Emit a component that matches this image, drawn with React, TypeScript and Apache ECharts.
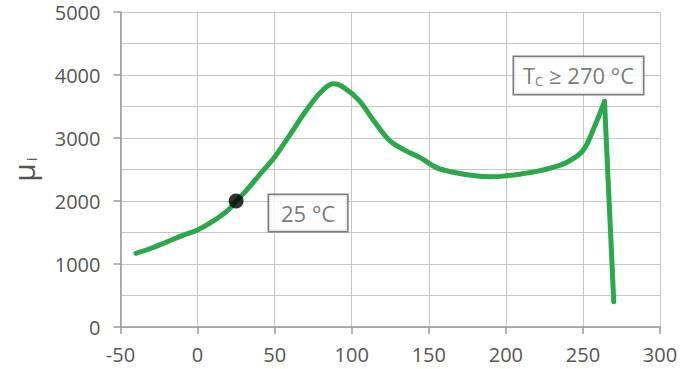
import React, { useEffect, useRef } from "react";
import * as echarts from "echarts";

const temps = [-40, -30, -20, -10, 0, 10, 20, 25, 30, 40, 50, 60, 70, 80, 88, 95, 105, 115, 125, 135, 145, 155, 165, 180, 190, 200, 210, 220, 230, 240, 250, 257, 264];
const mu = [1170, 1250, 1350, 1450, 1540, 1680, 1860, 2000, 2120, 2410, 2700, 3055, 3420, 3730, 3860, 3800, 3590, 3250, 2950, 2800, 2680, 2530, 2460, 2400, 2385, 2400, 2430, 2470, 2530, 2620, 2800, 3150, 3580];
const dropTemps = [264, 270];
const dropMu = [3580, 400];
const roomPoint = [25, 2000];
const curiePoint = [264, 3580];
const xTicks = { min: -50, max: 300, interval: 50 };
const yTicks = { min: 0, max: 5000, interval: 1000 };
const roomLabel = "25 °C";
const curieLabel = "270 °C";

const FONT = "'Open Sans', 'Noto Sans', sans-serif";
const GREEN = "#2aa84a";

export default function App() {
  const ref = useRef<HTMLDivElement>(null);
  useEffect(() => {
    document.body.style.margin = "0";
    const chart = echarts.init(ref.current!, null, { renderer: "svg" });
    const boxLabel = {
      show: true,
      position: "inside",
      color: "#555",
      fontFamily: FONT,
      fontSize: 22,
      backgroundColor: "#fff",
      borderColor: "#5a5a5a",
      borderWidth: 1.5,
    };
    chart.setOption({
      animation: false,
      grid: { left: 118, right: 34, top: 12, bottom: 42, containLabel: false },
      xAxis: {
        type: "value",
        min: xTicks.min,
        max: xTicks.max,
        interval: xTicks.interval,
        axisLine: { show: true, onZero: false, lineStyle: { color: "#9a9a9a", width: 1.5 } },
        axisTick: { show: true, length: 7, lineStyle: { color: "#9a9a9a", width: 1.5 } },
        axisLabel: { color: "#555", fontSize: 20, fontFamily: FONT, margin: 17, formatter: (v: number) => String(v) },
        splitLine: { show: true, lineStyle: { color: "#c6c6c6", width: 1 } },
      },
      yAxis: {
        type: "value",
        min: yTicks.min,
        max: yTicks.max,
        interval: yTicks.interval,
        name: "{a|μ}{b|i}",
        nameLocation: "middle",
        nameGap: 82,
        nameRotate: 90,
        nameTextStyle: {
          rich: {
            a: { fontSize: 30, color: "#555", fontFamily: FONT },
            b: { fontSize: 15, color: "#555", fontFamily: FONT, padding: [16, 0, 0, 2] },
          },
        },
        axisLine: { show: true, onZero: false, lineStyle: { color: "#9a9a9a", width: 1.5 } },
        axisTick: { show: true, length: 7, lineStyle: { color: "#9a9a9a", width: 1.5 } },
        axisLabel: { color: "#555", fontSize: 20, fontFamily: FONT, margin: 20, formatter: (v: number) => String(v) },
        splitLine: { show: true, lineStyle: { color: "#c6c6c6", width: 1 } },
        minorTick: { show: false, splitNumber: 2 },
        minorSplitLine: { show: true, lineStyle: { color: "#c6c6c6", width: 1 } },
      },
      series: [
        {
          type: "line",
          data: temps.map((t, i) => [t, mu[i]]),
          showSymbol: false,
          smooth: 0.35,
          lineStyle: { color: GREEN, width: 5, cap: "round", join: "round" },
          z: 2,
        },
        {
          type: "line",
          data: dropTemps.map((t, i) => [t, dropMu[i]]),
          showSymbol: false,
          smooth: false,
          lineStyle: { color: GREEN, width: 5, cap: "round", join: "round" },
          z: 2,
        },
        {
          type: "scatter",
          data: [roomPoint],
          symbolSize: 15,
          itemStyle: { color: "#000" },
          label: { ...boxLabel, formatter: roomLabel, offset: [72, 12], padding: [7, 12, 7, 12] },
          z: 3,
        },
        {
          type: "scatter",
          data: [curiePoint],
          symbolSize: 0,
          itemStyle: { color: "transparent" },
          label: {
            ...boxLabel,
            formatter: "T{s|C} ≥ " + curieLabel,
            offset: [-26, -26],
            padding: [6, 9, 6, 9],
            rich: { s: { fontSize: 13, color: "#555", fontFamily: FONT, padding: [12, 0, 0, 0] } },
          },
          z: 3,
        },
      ],
    });
    return () => chart.dispose();
  }, []);
  return <div ref={ref} style={{ width: 694, height: 369 }} />;
}
